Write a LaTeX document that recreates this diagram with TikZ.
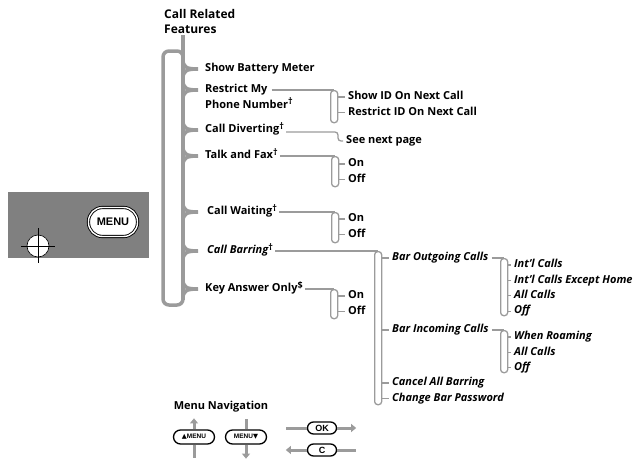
\documentclass[tikz,border=0pt]{standalone}
\usepackage{fontspec}
\setmainfont{Open Sans}
\newfontfamily\teclafont{Liberation Sans}
\newfontfamily\simbfont{DejaVu Sans}
\usetikzlibrary{arrows.meta, positioning, calc}
\definecolor{cinzalinha}{HTML}{9B9B9B}
\definecolor{cinzapainel}{HTML}{808080}
\newcommand{\dg}{\raisebox{3.5pt}{\upshape\fontsize{9}{9}\selectfont †}}
\newcommand{\cifrao}{\raisebox{3.5pt}{\fontsize{9}{9}\selectfont \$}}

\begin{document}
\begin{tikzpicture}[
        x=1pt, y=-1pt,
        font=\fontsize{11}{13}\selectfont\bfseries,
        item/.style={anchor=west, inner sep=0pt, text height=8pt, text depth=2.5pt},
        itemit/.style={item, font=\fontsize{11}{13}\selectfont\bfseries\itshape},
        abaixo/.style={below=4.5pt of #1.south west, anchor=north west},
        espinha/.style={draw=cinzalinha, line width=3.5pt},
        ramo/.style={draw=cinzalinha, line width=1.3pt, rounded corners=3pt},
        chave/.style={draw=cinzalinha, line width=1.3pt, rounded corners=3pt, minimum width=7pt, minimum height=#1, inner sep=0pt, anchor=north west},
        botao/.style={draw, line width=1.3pt, rounded corners=7pt, minimum width=41pt, minimum height=14pt, inner sep=0pt, fill=white, font=\teclafont\bfseries\fontsize{6.5}{6.5}\selectfont},
        nav/.style={draw=cinzalinha, line width=3pt},
        navseta/.style={nav, -{Triangle[width=8pt,length=5pt]}}
    ]
        \useasboundingbox (0,0) rectangle (641,463);

        % painel do telefone
        \fill[cinzapainel] (8,192) rectangle (149,258);
        \node[draw, double=white, double distance=1.4pt, line width=0.9pt, fill=white, rounded corners=14pt, minimum width=49pt, minimum height=29pt, inner sep=0pt, font=\teclafont\bfseries\fontsize{11}{11}\selectfont] (menu) at (113,222) {MENU};
        \node[circle, draw, fill=white, minimum size=22pt, inner sep=0pt, line width=0.6pt] (mira) at (38,246) {};
        \draw[line width=0.7pt] ([xshift=-17pt]mira.center) -- ([xshift=17pt]mira.center);
        \draw[line width=0.7pt] ([yshift=18pt]mira.center) -- ([yshift=-17pt]mira.center);

        % espinha com as chaves
        \node[font=\fontsize{12}{15}\selectfont\bfseries, align=left, anchor=north west, inner sep=0pt] (titulo) at (164,9) {Call Related\\Features};
        \draw[espinha] (183,35) -- (183,300);
        \draw[espinha, rounded corners=6pt] (183,62) -- (183,51) -- (163,51) -- (163,305) -- (183,305) -- (183,294);
        \foreach \y in {69,90,130,156,212,251,289}
            \draw[espinha] (183,\y-10) .. controls (183,\y-2) and (186,\y) .. (198,\y) .. controls (186,\y) and (183,\y+2) .. (183,\y+10);

        \node[item] (bateria) at (205,69) {Show Battery Meter};
        \node[item] (restringir) at (205,90) {Restrict My};
        \node[item, abaixo=restringir] (numero) {Phone Number\dg};
        \node[item] (desvio) at (205,130) {Call Diverting\dg};
        \node[item] (fax) at (205,156) {Talk and Fax\dg};
        \node[item] (espera) at (207,212) {Call Waiting\dg};
        \node[item] (bloqueio) at (207,251) {\itshape Call Barring\dg};
        \node[item] (atender) at (205,289) {Key Answer Only\cifrao};

        % primeiro nivel
        \node[item] (mostrar) at (348,97) {Show ID On Next Call};
        \node[item, abaixo=mostrar] (ocultar) {Restrict ID On Next Call};
        \node[item] (seguinte) at (346,141) {See next page};
        \node[item] (faxon) at (348,164) {On};
        \node[item, abaixo=faxon] (faxoff) {Off};
        \node[item] (esperaon) at (348,219) {On};
        \node[item, abaixo=esperaon] (esperaoff) {Off};
        \node[item] (atenderon) at (348,296) {On};
        \node[item, abaixo=atenderon] (atenderoff) {Off};

        \node[itemit] (saida) at (392,258) {Bar Outgoing Calls};
        \node[itemit] (entrada) at (392,330) {Bar Incoming Calls};
        \node[itemit] (cancelar) at (392,383) {Cancel All Barring};
        \node[itemit, abaixo=cancelar] (senha) {Change Bar Password};

        % segundo nivel
        \node[itemit] (intl) at (514,265) {Int'l Calls};
        \node[itemit, abaixo=intl] (intlcasa) {Int'l Calls Except Home};
        \node[itemit, abaixo=intlcasa] (todas) {All Calls};
        \node[itemit, abaixo=todas] (desl) {Off};
        \node[itemit] (roaming) at (514,337) {When Roaming};
        \node[itemit, abaixo=roaming] (todasin) {All Calls};
        \node[itemit, abaixo=todasin] (deslin) {Off};

        % chaves finas
        \node[chave=32pt] (kr) at (330,90) {};
        \node[chave=30pt] (kf) at (331,156) {};
        \node[chave=30pt] (ke) at (331,212) {};
        \node[chave=29pt] (ka) at (330,289) {};
        \node[chave=153pt] (kb) at (374,251) {};
        \node[chave=57pt] (ks) at (500,258) {};
        \node[chave=42pt] (kn) at (500,330) {};

        \draw[ramo, shorten <=4pt] (restringir.east) -- (kr.north);
        \draw[ramo, shorten <=2pt] (fax.east) -- (kf.north);
        \draw[ramo, shorten <=2pt] (espera.east) -- (ke.north);
        \draw[ramo, shorten <=2pt] (atender.east) -- (ka.north);
        \draw[ramo, shorten <=2pt] (bloqueio.east) -- (kb.north);
        \draw[ramo, shorten <=3pt] (saida.east) -- (ks.north);
        \draw[ramo, shorten <=3pt] (entrada.east) -- (kn.north);
        \draw[ramo, shorten <=2pt, shorten >=3pt] ([yshift=-2pt]desvio.east) -| ([xshift=-8pt]seguinte.west) -- (seguinte.west);

        \foreach \k/\n in {kr/mostrar, kr/ocultar, kf/faxon, kf/faxoff, ke/esperaon, ke/esperaoff, ka/atenderon, ka/atenderoff,
                kb/saida, kb/entrada, kb/cancelar, kb/senha, ks/intl, ks/intlcasa, ks/todas, ks/desl, kn/roaming, kn/todasin, kn/deslin}
            \draw[ramo, shorten >=3pt] (\k.east |- \n.west) -- (\n.west);

        % navegacao
        \node (navtitulo) at (221,407) {Menu Navigation};
        \node[botao] (sobe) at (194,437) {{\simbfont ▲}MENU};
        \node[botao] (desce) at (246,437) {MENU{\simbfont ▼}};
        \node[botao, minimum width=29pt, minimum height=12pt, rounded corners=6pt, font=\teclafont\bfseries\fontsize{9}{9}\selectfont] (ok) at (322,428) {OK};
        \node[botao, minimum width=29pt, minimum height=12pt, rounded corners=6pt, font=\teclafont\bfseries\fontsize{9}{9}\selectfont] (cancela) at (322,450) {C};
        \draw[navseta] (sobe.north) -- ++(0,-11);
        \draw[nav] (sobe.south) -- ++(0,13);
        \draw[nav] (desce.north) -- ++(0,-10);
        \draw[navseta] (desce.south) -- ++(0,14);
        \draw[nav] (ok.west) -- ++(-21,0);
        \draw[navseta] (ok.east) -- ++(19,0);
        \draw[navseta] (cancela.west) -- ++(-21,0);
        \draw[nav] (cancela.east) -- ++(19,0);
    \end{tikzpicture}
\end{document}
